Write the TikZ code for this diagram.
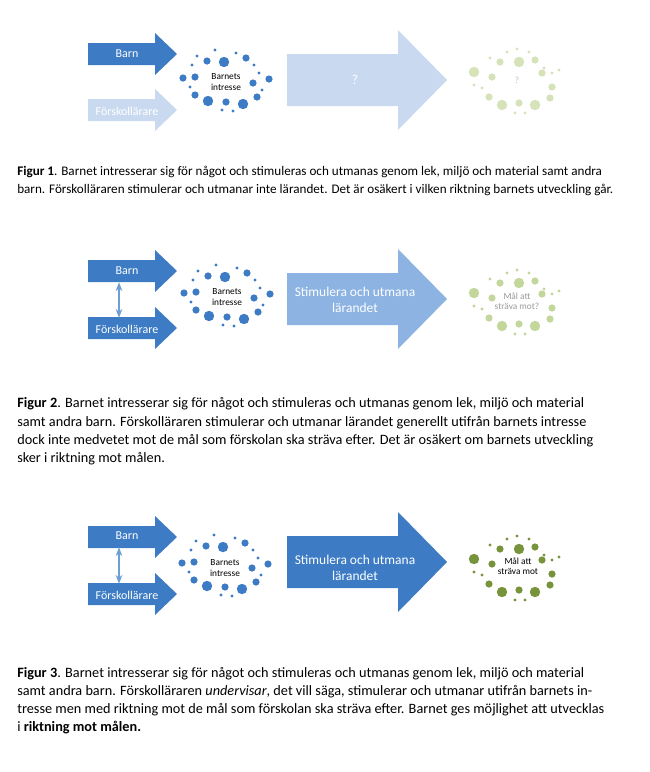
\documentclass[tikz,border=0pt]{standalone}
\usepackage{fontspec}
\setmainfont{Carlito}
\usepackage{tikz}
\usetikzlibrary{arrows.meta,positioning}
\definecolor{Blue}{HTML}{3D7CC4}
\definecolor{PaleBlue}{HTML}{C9DAF0}
\definecolor{MidBlue}{HTML}{8DB3E2}
\definecolor{LinkBlue}{HTML}{6C9FD4}
\definecolor{Olive}{HTML}{77933C}
\definecolor{LightOlive}{HTML}{C3D69B}
\definecolor{PaleOlive}{HTML}{D6E2B8}
\definecolor{Gray}{HTML}{9A9A9A}

\tikzset{
  pics/smallarrow/.style={code={\fill[#1] (-44.5,-11) -- (22.5,-11) -- (22.5,-21) -- (44.5,0) -- (22.5,21) -- (22.5,11) -- (-44.5,11) -- cycle;}},
  pics/bigarrow/.style={code={\fill[#1] (-80,-26) -- (31,-26) -- (31,-50) -- (80,0) -- (31,50) -- (31,26) -- (-80,26) -- cycle;}},
  pics/blueblob/.style={code={
    \foreach \dx/\dy/\r in {-11/-32/1.7,-29/-26/1.7,-19/-21/3.6,-2/-20/5.2,10/-29/1.7,20/-24/3.6,-34/-17/1.7,28/-17/1.7,
      -43/-4/3.6,-31/-5/3.6,27/1/3.6,43/-3/3.6,33/-9/1.7,-36/5/1.7,36/8/1.7,-31/13/3.6,31/15/3.6,
      -18/19/5.2,0/20/3.6,17/22/5.2,-4/28/1.7,7/29/1.7}
      \fill[#1] (\dx,\dy) circle[radius=\r];}},
  pics/greenblob/.style={code={
    \foreach \dx/\dy/\r in {-10/-28/1.7,0/-31/1.7,12/-28/1.7,-17/-18/3.6,2/-18/5.2,18/-20/3.6,-27/-22/1.7,27/-12/1.7,
      25/-7/3.6,35/-7/1.7,42/-10/1.7,-43/-8/5.2,-25/-3/3.6,35/7/3.6,-43/5/1.7,-35/8/1.7,-28/17/3.6,
      -15/25/5.2,2/23/3.6,18/25/5.2,33/18/3.6,-2/33/1.7,8/33/1.7}
      \fill[#1] (\dx,\dy) circle[radius=\r];}},
}

\begin{document}
\begin{tikzpicture}[x=0.75pt,y=-0.75pt,>=Stealth,
    armtext/.style={text=white,inner sep=0pt,minimum height=16.5pt,font=\fontsize{9}{11}\selectfont},
    blobtext/.style={align=center,inner sep=0pt,font=\fontsize{7}{7.8}\selectfont},
    bigtext/.style={text=white,align=center,inner sep=0pt,font=\fontsize{10.1}{12.5}\selectfont},
    caption/.style={anchor=north west,align=left,inner sep=0pt,font=\fontsize{10.7}{13.6}\selectfont}]
  \useasboundingbox[fill=white] (0,0) rectangle (650,772);
  % Figur 1
  \pic at (132.5,54) {smallarrow=Blue};
  \pic at (132.5,110) {smallarrow=PaleBlue};
  \node[armtext] (barn1) at (127,54) {Barn};
  \node[armtext] (forsk1) at (127,111) {Förskollärare};
  \pic at (226,82) {blueblob=Blue};
  \node[blobtext] (intr1) at (226,82) {Barnets\\intresse};
  \pic at (367,80) {bigarrow=PaleBlue};
  \node[bigtext] (stim1) at (355,80) {?};
  \pic at (517,80) {greenblob=PaleOlive};
  \node[blobtext,text=Gray!60] (mal1) at (517,80) {?};
  \node[caption,font=\fontsize{9.85}{13.6}\selectfont] (cap1) at (17,166) {\textbf{Figur 1}. Barnet intresserar sig för något och stimuleras och utmanas genom lek, miljö och material samt andra\\
    barn. Förskolläraren stimulerar och utmanar inte lärandet. Det är osäkert i vilken riktning barnets utveckling går.};
  % Figur 2
  \pic at (132.5,271) {smallarrow=Blue};
  \pic at (132.5,328) {smallarrow=Blue};
  \node[armtext] (barn2) at (127,271) {Barn};
  \node[armtext] (forsk2) at (127,329) {Förskollärare};
  \draw[<->,LinkBlue,thick] ([xshift=-6pt]barn2.south) -- ([xshift=-6pt]forsk2.north);
  \pic at (227,297) {blueblob=Blue};
  \node[blobtext] (intr2) at (227,297) {Barnets\\intresse};
  \pic at (367,299) {bigarrow=MidBlue};
  \node[bigtext] (stim2) at (355,300) {Stimulera och utmana\\lärandet};
  \pic at (517,301) {greenblob=LightOlive};
  \node[blobtext,text=Gray] (mal2) at (517,301) {Mål att\\sträva mot?};
  \node[caption] (cap2) at (17,397.5) {\textbf{Figur 2}. Barnet intresserar sig för något och stimuleras och utmanas genom lek, miljö och material\\
    samt andra barn. Förskolläraren stimulerar och utmanar lärandet generellt utifrån barnets intresse\\
    dock inte medvetet mot de mål som förskolan ska sträva efter. Det är osäkert om barnets utveckling\\
    sker i riktning mot målen.};
  % Figur 3
  \pic at (132.5,537) {smallarrow=Blue};
  \pic at (132.5,594) {smallarrow=Blue};
  \node[armtext] (barn3) at (127,536) {Barn};
  \node[armtext] (forsk3) at (127,595) {Förskollärare};
  \draw[<->,LinkBlue,thick] ([xshift=-6pt]barn3.south) -- ([xshift=-6pt]forsk3.north);
  \pic at (225,567) {blueblob=Blue};
  \node[blobtext] (intr3) at (225,568) {Barnets\\intresse};
  \pic at (367,562) {bigarrow=Blue};
  \node[bigtext] (stim3) at (355,568) {Stimulera och utmana\\lärandet};
  \pic at (517,567) {greenblob=Olive};
  \node[blobtext] (mal3) at (518,566) {Mål att\\sträva mot};
  \node[caption] (cap3) at (17,667) {\textbf{Figur 3}. Barnet intresserar sig för något och stimuleras och utmanas genom lek, miljö och material\\
    samt andra barn. Förskolläraren \emph{undervisar}, det vill säga, stimulerar och utmanar utifrån barnets in-\\
    tresse men med riktning mot de mål som förskolan ska sträva efter. Barnet ges möjlighet att utvecklas\\
    i \textbf{riktning mot målen.}};
\end{tikzpicture}
\end{document}
